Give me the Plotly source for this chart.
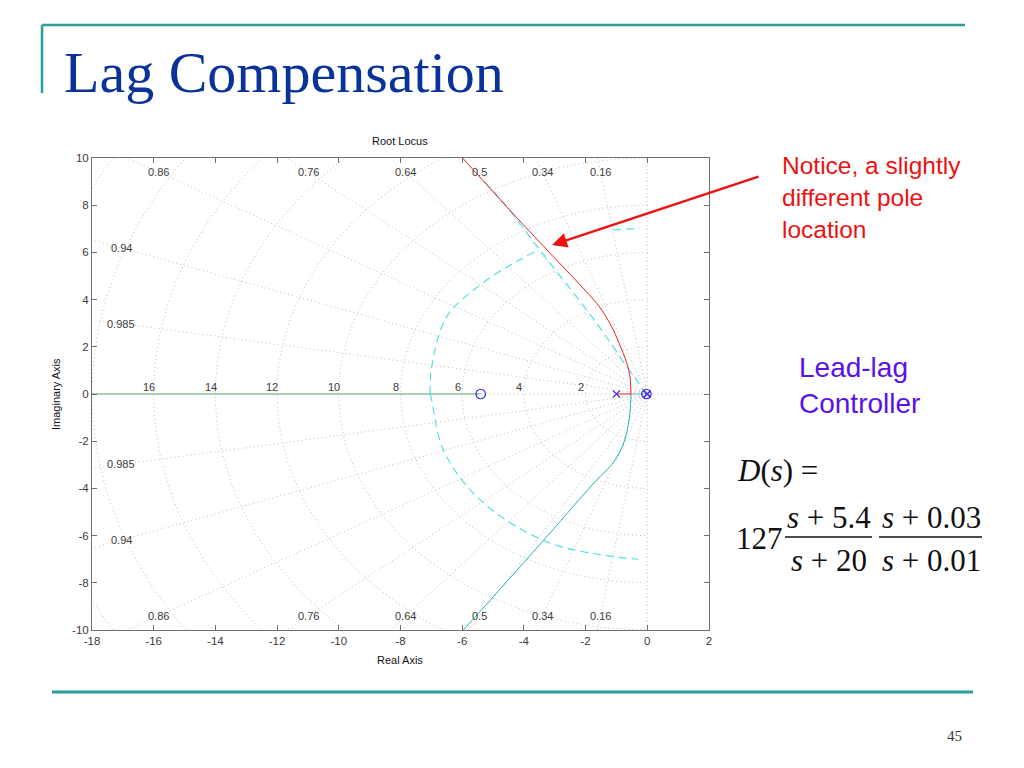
import numpy as np
import plotly.graph_objects as go

# ---- root locus data ----
zeta_vals = [0.16, 0.34, 0.5, 0.64, 0.76, 0.86, 0.94, 0.985]
zeta_top = [0.16, 0.34, 0.5, 0.64, 0.76, 0.86]   # labelled along top / bottom
zeta_left = [0.94, 0.985]                        # labelled along left edge
wn_vals = [2, 4, 6, 8, 10, 12, 14, 16, 18, 20]
wn_labels = [2, 4, 6, 8, 10, 12, 14, 16]

# upper branch (red)
red_x = [-0.53, -0.54, -0.56, -0.65, -0.78, -0.93, -1.10, -1.35, -1.64, -3.35, -4.56, -6.02]
red_y = [0.0, 0.35, 0.73, 1.25, 1.72, 2.20, 2.71, 3.30, 3.84, 6.24, 7.94, 10.05]
red_axis_x = [-1.0, -0.53]

# lower branch (cyan)
cyan_x = [-0.53, -0.54, -0.58, -0.66, -0.80, -1.00, -1.21, -1.64, -3.26, -5.96]
cyan_y = [0.0, -0.40, -1.00, -1.60, -2.20, -2.70, -3.08, -3.64, -6.05, -10.0]
cyan_axis_x = [-0.03, -0.53]

# dashed cyan curves
dash1_x = [0.0, -0.13, -0.35, -0.67, -1.10, -1.64, -3.48, -4.56, -5.42]
dash1_y = [0.0, 0.17, 0.60, 1.16, 2.00, 3.00, 6.10, 7.94, 9.19]
dash2_x = [-7.04, -6.99, -6.50, -5.42, -4.34, -3.54]
dash2_y = [0.0, 1.16, 3.28, 4.62, 5.54, 6.10]
dash3_x = [-1.10, -0.24]
dash3_y = [6.95, 7.02]
dash4_x = [-7.04, -6.99, -6.61, -5.42, -3.26, -1.10, -0.29]
dash4_y = [0.0, -0.25, -2.37, -4.49, -6.26, -6.89, -7.00]

# real-axis segment from pole at -20 to zero at -5.4 (green)
green_x = [-20.0, -5.4]

pole_x = [-1.0, 0.0, -0.01]
zero_x = [-5.4, -0.03]

x_ticks = list(range(-18, 3, 2))
y_ticks = list(range(-10, 11, 2))
x_ticktext = [str(v) for v in x_ticks]
y_ticktext = [str(v) for v in y_ticks]

# page pixel positions of the plot box (the html body adds an 8px margin)
OFF = 8
W, H = 1024 - OFF, 768 - OFF
L, R, T, B = 92, 709, 158, 630


def px(xp):
    return (xp - L) / (R - L)


def py(yp):
    return (B - yp) / (B - T)


GRID = dict(color='#bdbdbd', width=1, dash='1px,3px')
AX_FONT = dict(family='Liberation Sans, Arial', size=11.5, color='#3a3a3a')
LAB_FONT = dict(family='Liberation Sans, Arial', size=11, color='#3a3a3a')

fig = go.Figure()

# sgrid: damping rays
for z in zeta_vals:
    th = np.arccos(z)
    for sgn in (1, -1):
        fig.add_trace(go.Scatter(x=[0, -40 * np.cos(th)], y=[0, sgn * 40 * np.sin(th)],
                                 mode='lines', line=GRID, hoverinfo='skip', showlegend=False))
# axes of the s-plane
fig.add_trace(go.Scatter(x=[-40, 40], y=[0, 0], mode='lines', line=GRID,
                         hoverinfo='skip', showlegend=False))
fig.add_trace(go.Scatter(x=[0, 0], y=[-40, 40], mode='lines', line=GRID,
                         hoverinfo='skip', showlegend=False))
# natural frequency circles
t = np.linspace(np.pi / 2, 3 * np.pi / 2, 120)
for wn in wn_vals:
    fig.add_trace(go.Scatter(x=wn * np.cos(t), y=wn * np.sin(t), mode='lines', line=GRID,
                             hoverinfo='skip', showlegend=False))

# locus
fig.add_trace(go.Scatter(x=green_x, y=[0, 0], mode='lines',
                         line=dict(color='#5fae5f', width=1), showlegend=False))
for xs, ys in [(dash1_x, dash1_y), (dash2_x, dash2_y), (dash3_x, dash3_y), (dash4_x, dash4_y)]:
    fig.add_trace(go.Scatter(x=xs, y=ys, mode='lines', line_shape='spline',
                             line=dict(color='#45e0e0', width=1.1, dash='8px,5px'),
                             showlegend=False))
fig.add_trace(go.Scatter(x=cyan_axis_x, y=[0, 0], mode='lines',
                         line=dict(color='#7fb8b0', width=1), showlegend=False))
fig.add_trace(go.Scatter(x=cyan_x, y=cyan_y, mode='lines', line_shape='spline',
                         line=dict(color='#1fb4b4', width=1), showlegend=False))
fig.add_trace(go.Scatter(x=red_axis_x, y=[0, 0], mode='lines',
                         line=dict(color='#ee2222', width=1), showlegend=False))
fig.add_trace(go.Scatter(x=red_x, y=red_y, mode='lines', line_shape='spline',
                         line=dict(color='#ee2222', width=1), showlegend=False))

# poles and zeros
fig.add_trace(go.Scatter(x=zero_x, y=[0] * len(zero_x), mode='markers',
                         marker=dict(symbol='circle-open', size=9.5, color='#2a2aee',
                                     line=dict(width=1.2)), showlegend=False))
fig.add_trace(go.Scatter(x=pole_x, y=[0] * len(pole_x), mode='markers',
                         marker=dict(symbol='x-thin-open', size=7, color='#4a2aee',
                                     line=dict(width=1.2, color='#4a2aee')), showlegend=False))

CENTER = dict(xanchor='center', yanchor='middle', showarrow=False)
ann = []
# damping labels
for z in zeta_top:
    k = np.tan(np.arccos(z))
    for yy in (9.4, -9.4):
        ann.append(dict(x=-abs(yy) / k, y=yy, text=str(z), font=LAB_FONT,
                        xref='x', yref='y', **CENTER))
for z in zeta_left:
    k = np.tan(np.arccos(z))
    for sgn in (1, -1):
        ann.append(dict(x=-17.05, y=sgn * 17.05 * k, text=str(z), font=LAB_FONT,
                        xref='x', yref='y', **CENTER))
# frequency labels
for wn in wn_labels:
    ann.append(dict(x=-wn - 0.15, y=0.3, text=str(wn), font=LAB_FONT,
                    xref='x', yref='y', **CENTER))

LBL = dict(family='Liberation Sans, Arial', size=11, color='#111')
ann.append(dict(x=px(400), y=py(141), xref='paper', yref='paper', text='Root Locus',
                font=LBL, **CENTER))
ann.append(dict(x=px(400), y=py(660), xref='paper', yref='paper', text='Real Axis',
                font=LBL, **CENTER))
ann.append(dict(x=px(56), y=py(394), xref='paper', yref='paper', text='Imaginary Axis',
                textangle=-90, font=LBL, **CENTER))

# arrow
ann.append(dict(x=-3.09, y=6.31, xref='x', yref='y', ax=208, ay=-69, text='',
                showarrow=True, arrowhead=2, arrowsize=1.2, arrowwidth=2.5,
                arrowcolor='#ee1111'))

# slide text
ann.append(dict(x=px(62), y=py(72), xref='paper', yref='paper', text='Lag Compensation',
                xanchor='left', yanchor='middle', showarrow=False,
                font=dict(family='Liberation Serif, Times New Roman', size=58, color='#0a3399')))
ann.append(dict(x=px(780), y=py(150), xref='paper', yref='paper',
                text='Notice, a slightly<br>different pole<br>location',
                xanchor='left', yanchor='top', align='left', showarrow=False,
                font=dict(family='Liberation Sans, Arial', size=24.5, color='#ee1111')))
ann.append(dict(x=px(797), y=py(350), xref='paper', yref='paper',
                text='Lead-lag<br>Controller',
                xanchor='left', yanchor='top', align='left', showarrow=False,
                font=dict(family='Liberation Sans, Arial', size=28, color='#5a12e6')))

SERIF = dict(family='Liberation Serif, Times New Roman', size=31, color='#111')
ann.append(dict(x=px(735), y=py(470), xref='paper', yref='paper',
                text='<i>D</i>(<i>s</i>) =', xanchor='left', yanchor='middle',
                showarrow=False, font=SERIF))
ann.append(dict(x=px(734), y=py(538), xref='paper', yref='paper',
                text='127', xanchor='left', yanchor='middle', showarrow=False, font=SERIF))
for xc, num, den in [(829, '5.4', '20'), (931, '0.03', '0.01')]:
    ann.append(dict(x=px(xc), y=py(517), xref='paper', yref='paper',
                    text='<i>s</i> + ' + num, font=SERIF, **CENTER))
    ann.append(dict(x=px(xc), y=py(560), xref='paper', yref='paper',
                    text='<i>s</i> + ' + den, font=SERIF, **CENTER))
ann.append(dict(x=px(954), y=py(736), xref='paper', yref='paper', text='45',
                font=dict(family='Liberation Serif, Times New Roman', size=15, color='#333'),
                **CENTER))

TEAL = '#2a9d9d'
shapes = [
    dict(type='line', xref='paper', yref='paper', x0=px(42), x1=px(965), y0=py(25), y1=py(25),
         line=dict(color=TEAL, width=2.5)),
    dict(type='line', xref='paper', yref='paper', x0=px(42), x1=px(42), y0=py(25), y1=py(93),
         line=dict(color=TEAL, width=2.5)),
    dict(type='line', xref='paper', yref='paper', x0=px(52), x1=px(973), y0=py(692), y1=py(692),
         line=dict(color=TEAL, width=3)),
    dict(type='line', xref='paper', yref='paper', x0=px(785), x1=px(872), y0=py(537), y1=py(537),
         line=dict(color='#111', width=1.5)),
    dict(type='line', xref='paper', yref='paper', x0=px(879), x1=px(982), y0=py(537), y1=py(537),
         line=dict(color='#111', width=1.5)),
]

axis_common = dict(showgrid=False, zeroline=False, showline=True, linecolor='#707070',
                   linewidth=1, mirror='ticks', ticks='inside', ticklen=5, tickcolor='#707070',
                   tickfont=AX_FONT)

fig.update_layout(
    width=W, height=H, autosize=False,
    margin=dict(l=L - OFF, r=W - (R - OFF), t=T - OFF, b=H - (B - OFF)),
    paper_bgcolor='white', plot_bgcolor='white',
    xaxis=dict(range=[-18, 2], tickvals=x_ticks, ticktext=x_ticktext, **axis_common),
    yaxis=dict(range=[-10, 10], tickvals=y_ticks, ticktext=y_ticktext, **axis_common),
    annotations=ann, shapes=shapes, showlegend=False,
)

fig.write_html("out.html")
